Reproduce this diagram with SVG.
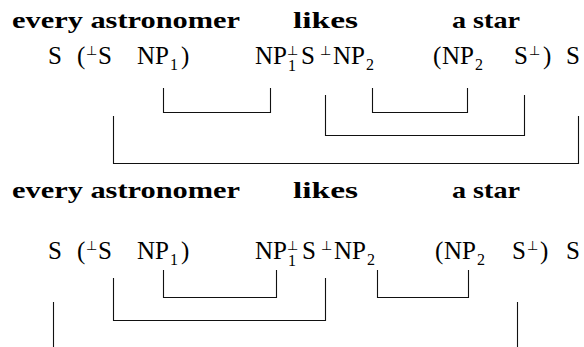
<svg xmlns="http://www.w3.org/2000/svg" width="584" height="347" viewBox="0 0 584 347">
<style>
.w{font-family:"Liberation Serif","Times New Roman",serif;font-weight:bold;font-size:24px;fill:#000}
.t{font-family:"Liberation Serif","Times New Roman",serif;font-size:25px;fill:#000}
.s{font-family:"Liberation Serif","Times New Roman",serif;font-size:16px;fill:#000}
.p{font-family:"DejaVu Sans",sans-serif;font-size:13px;fill:#000}
.c{fill:none;stroke:#111;stroke-width:1.1}
</style>
<rect width="584" height="347" fill="#fff"/>
<g id="top-words">
<text class="w" x="12" y="28" textLength="228" lengthAdjust="spacingAndGlyphs">every astronomer</text>
<text class="w" x="293" y="28" textLength="65" lengthAdjust="spacingAndGlyphs">likes</text>
<text class="w" x="452" y="28" textLength="68" lengthAdjust="spacingAndGlyphs">a star</text>
</g>
<g id="top-types">
<text class="t" x="48" y="64">S</text>
<text class="t" x="77" y="64">(</text><text class="p" x="86" y="55">⊥</text><text class="t" x="98" y="64">S</text>
<text class="t" x="137" y="64">NP</text><text class="s" x="170" y="70">1</text><text class="t" x="181" y="64">)</text>
<text class="t" x="255" y="64">NP</text><text class="s" x="288" y="71">1</text><text class="p" x="287" y="55">⊥</text>
<text class="t" x="301" y="64">S</text>
<text class="p" x="320" y="55">⊥</text><text class="t" x="333" y="64">NP</text><text class="s" x="366" y="70">2</text>
<text class="t" x="433" y="64">(</text><text class="t" x="442" y="64">NP</text><text class="s" x="475" y="70">2</text>
<text class="t" x="514" y="64">S</text><text class="p" x="529" y="55">⊥</text><text class="t" x="543" y="64">)</text>
<text class="t" x="566" y="64">S</text>
</g>
<g id="top-connectors">
<path class="c" d="M163.5,88V112.5H270.5V88"/>
<path class="c" d="M372.5,88V112.5H467.5V88"/>
<path class="c" d="M325.5,95V135.5H524.5V95"/>
<path class="c" d="M113.5,116V163.5H578.5V116"/>
</g>
<g id="bottom-words">
<text class="w" x="12" y="198" textLength="228" lengthAdjust="spacingAndGlyphs">every astronomer</text>
<text class="w" x="293" y="198" textLength="65" lengthAdjust="spacingAndGlyphs">likes</text>
<text class="w" x="452" y="198" textLength="68" lengthAdjust="spacingAndGlyphs">a star</text>
</g>
<g id="bottom-types">
<text class="t" x="48" y="259">S</text>
<text class="t" x="77" y="259">(</text><text class="p" x="86" y="250">⊥</text><text class="t" x="98" y="259">S</text>
<text class="t" x="137" y="259">NP</text><text class="s" x="170" y="265">1</text><text class="t" x="181" y="259">)</text>
<text class="t" x="255" y="259">NP</text><text class="s" x="288" y="266">1</text><text class="p" x="287" y="250">⊥</text>
<text class="t" x="302" y="259">S</text>
<text class="p" x="321" y="250">⊥</text><text class="t" x="334" y="259">NP</text><text class="s" x="367" y="265">2</text>
<text class="t" x="435" y="259">(</text><text class="t" x="444" y="259">NP</text><text class="s" x="477" y="265">2</text>
<text class="t" x="512" y="259">S</text><text class="p" x="527" y="250">⊥</text><text class="t" x="540" y="259">)</text>
<text class="t" x="566" y="259">S</text>
</g>
<g id="bottom-connectors">
<path class="c" d="M163.5,270V297.5H276.5V270"/>
<path class="c" d="M113.5,278V320.5H325.5V278"/>
<path class="c" d="M377.5,270V297.5H468.5V270"/>
<path class="c" d="M53.5,302V347"/>
<path class="c" d="M517.5,302V347"/>
</g>
</svg>
